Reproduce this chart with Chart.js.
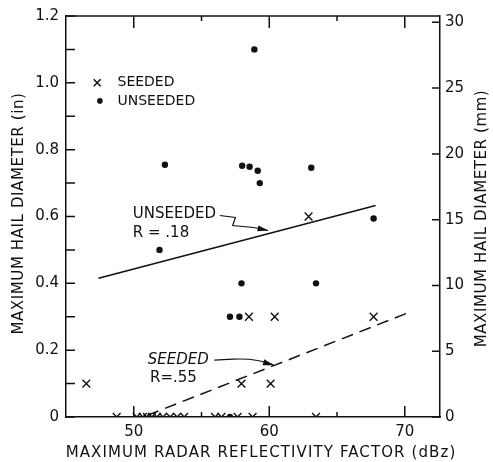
<!DOCTYPE html>
<html>
<head>
<meta charset="utf-8">
<script src="https://cdn.jsdelivr.net/npm/chart.js@4.4.0/dist/chart.umd.min.js"></script>
<style>
  html, body { margin: 0; padding: 0; background: #fff; }
  #wrap { width: 493px; height: 462px; }
</style>
</head>
<body>
<div id="wrap"><canvas id="hailChart"></canvas></div>
<script>
// seeded storms (x marks)
const seededDbz  = [46.5, 58.5, 60.4, 67.7, 57.95, 60.1, 62.9,
                    48.74, 50.22, 50.67, 50.97, 51.34, 51.71, 52.16, 52.68, 53.2, 53.72,
                    56.0, 56.47, 57.66, 58.77, 63.45];
const seededHail = [0.1, 0.3, 0.3, 0.3, 0.1, 0.1, 0.6,
                    0, 0, 0, 0, 0, 0, 0, 0, 0, 0,
                    0, 0, 0, 0, 0];
// unseeded storms (dots)
const unseededDbz  = [58.9, 52.3, 58.0, 58.55, 59.15, 59.3, 63.1, 51.9, 67.7, 57.95, 63.45, 57.1, 57.8, 57.1];
const unseededHail = [1.1, 0.755, 0.752, 0.749, 0.737, 0.70, 0.746, 0.50, 0.594, 0.4, 0.4, 0.3, 0.3, 0];

// regression lines
const unseededFitX = [47.4, 67.85];
const unseededFitY = [0.415, 0.633];
const seededFitX = [51.0, 70.5];
const seededFitY = [0.005, 0.316];

// axes
const xTicks = [50, 55, 60, 65, 70];
const xLabels = [50, 60, 70];
const yTicks = [0, 0.1, 0.2, 0.3, 0.4, 0.5, 0.6, 0.7, 0.8, 0.9, 1.0, 1.1, 1.2];
const yLabelValues = [0, 0.2, 0.4, 0.6, 0.8, 1.0, 1.2];
const yLabelText = ["0", "0.2", "0.4", "0.6", "0.8", "1.0", "1.2"];
const mmTicks = [0, 5, 10, 15, 20, 25, 30];

const xTitle = "MAXIMUM RADAR REFLECTIVITY FACTOR (dBz)";
const yTitle = "MAXIMUM HAIL DIAMETER (in)";
const y2Title = "MAXIMUM HAIL DIAMETER (mm)";

const INK = "#111";
const FONT = "'DejaVu Sans', sans-serif";

function pts(xs, ys) {
    return xs.map((x, i) => ({ x: x, y: ys[i] }));
}

// inward tick marks, top frame line, titles, legend and annotations
const paperPlugin = {
    id: "paper",
    afterDatasetsDraw(chart) {
        const ctx = chart.ctx;
        const a = chart.chartArea;
        const xs = chart.scales.x, ys = chart.scales.y, ys2 = chart.scales.y2;
        const px = v => xs.getPixelForValue(v);
        const py = v => ys.getPixelForValue(v);

        ctx.save();
        ctx.strokeStyle = INK;
        ctx.fillStyle = INK;
        ctx.lineWidth = 1.5;

        // top border
        ctx.beginPath();
        ctx.moveTo(a.left, a.top);
        ctx.lineTo(a.right, a.top);
        ctx.stroke();

        ctx.beginPath();
        yTicks.forEach(v => {
            const y = py(v);
            ctx.moveTo(a.left, y);
            ctx.lineTo(a.left + 9, y);
        });
        mmTicks.forEach(v => {
            const y = ys2.getPixelForValue(v);
            ctx.moveTo(a.right, y);
            ctx.lineTo(a.right - 8, y);
        });
        xTicks.forEach(v => {
            const x = px(v);
            const major = xLabels.includes(v);
            ctx.moveTo(x, a.bottom);
            ctx.lineTo(x, a.bottom - (major ? 11 : 5));
            ctx.moveTo(x, a.top);
            ctx.lineTo(x, a.top + (major ? 12 : 5));
        });
        ctx.stroke();

        // axis titles
        ctx.font = "15px " + FONT;
        ctx.textAlign = "center";
        ctx.textBaseline = "middle";
        ctx.letterSpacing = "1.1px";
        ctx.fillText(xTitle, (a.left + a.right) / 2 + 8, 453);
        ctx.letterSpacing = "0.6px";
        ctx.save();
        ctx.translate(19, (a.top + a.bottom) / 2 - 3);
        ctx.rotate(-Math.PI / 2);
        ctx.fillText(yTitle, 0, 0);
        ctx.restore();
        ctx.save();
        ctx.translate(482, (a.top + a.bottom) / 2 + 2);
        ctx.rotate(-Math.PI / 2);
        ctx.fillText(y2Title, 0, 0);
        ctx.restore();
        ctx.letterSpacing = "0px";

        // legend
        ctx.font = "14px " + FONT;
        ctx.textAlign = "left";
        const lx = px(47.3), ly1 = py(1.0), ly2 = py(0.946);
        ctx.beginPath();
        ctx.moveTo(lx - 3.5, ly1 - 3.5); ctx.lineTo(lx + 3.5, ly1 + 3.5);
        ctx.moveTo(lx + 3.5, ly1 - 3.5); ctx.lineTo(lx - 3.5, ly1 + 3.5);
        ctx.stroke();
        ctx.beginPath();
        ctx.arc(px(47.5), ly2, 2.8, 0, Math.PI * 2);
        ctx.fill();
        ctx.fillText("SEEDED", px(48.8), ly1);
        ctx.fillText("UNSEEDED", px(48.8), ly2);

        // unseeded annotation
        ctx.font = "15px " + FONT;
        ctx.fillText("UNSEEDED", px(49.93), py(0.606));
        ctx.fillText("R = .18", px(49.93), py(0.549));
        ctx.lineWidth = 1.2;
        ctx.beginPath();
        ctx.moveTo(px(56.35), py(0.603));
        ctx.lineTo(px(57.5), py(0.597));
        ctx.lineTo(px(57.3), py(0.573));
        ctx.lineTo(px(58.85), py(0.567));
        ctx.lineTo(px(59.9), py(0.558));
        ctx.stroke();
        arrowHead(ctx, px(58.85), py(0.567), px(59.95), py(0.558));

        // seeded annotation
        ctx.font = "italic 15px " + FONT;
        ctx.fillText("SEEDED", px(51.04), py(0.17));
        ctx.font = "15px " + FONT;
        ctx.fillText("R=.55", px(51.2), py(0.116));
        ctx.beginPath();
        ctx.moveTo(px(55.95), py(0.17));
        ctx.lineTo(px(57.3), py(0.173));
        ctx.quadraticCurveTo(px(59.0), py(0.177), px(60.3), py(0.156));
        ctx.stroke();
        arrowHead(ctx, px(59.2), py(0.168), px(60.35), py(0.155));

        ctx.restore();
    }
};

function arrowHead(ctx, x0, y0, x1, y1) {
    const ang = Math.atan2(y1 - y0, x1 - x0);
    const len = 11, half = 3;
    ctx.beginPath();
    ctx.moveTo(x1, y1);
    ctx.lineTo(x1 - len * Math.cos(ang) + half * Math.sin(ang), y1 - len * Math.sin(ang) - half * Math.cos(ang));
    ctx.lineTo(x1 - len * Math.cos(ang) - half * Math.sin(ang), y1 - len * Math.sin(ang) + half * Math.cos(ang));
    ctx.closePath();
    ctx.fill();
}

const canvas = document.getElementById("hailChart");
new Chart(canvas.getContext("2d"), {
    type: "scatter",
    data: {
        datasets: [
            {
                label: "Seeded",
                data: pts(seededDbz, seededHail),
                pointStyle: "crossRot",
                pointRadius: 5.5,
                borderColor: INK,
                borderWidth: 1.4
            },
            {
                label: "Unseeded",
                data: pts(unseededDbz, unseededHail),
                pointStyle: "circle",
                pointRadius: 3.2,
                backgroundColor: INK,
                borderColor: INK,
                borderWidth: 0
            },
            {
                label: "Unseeded fit",
                data: pts(unseededFitX, unseededFitY),
                showLine: true,
                pointRadius: 0,
                borderColor: INK,
                borderWidth: 1.5
            },
            {
                label: "Seeded fit",
                data: pts(seededFitX, seededFitY),
                showLine: true,
                pointRadius: 0,
                borderColor: INK,
                borderWidth: 1.5,
                borderDash: [12, 7]
            }
        ]
    },
    options: {
        responsive: true,
        maintainAspectRatio: false,
        animation: false,
        devicePixelRatio: 1,
        layout: { padding: { top: 15, left: 0, right: 0, bottom: 0 } },
        plugins: {
            legend: { display: false },
            tooltip: { enabled: false }
        },
        scales: {
            x: {
                type: "linear",
                position: "bottom",
                min: 45,
                max: 72.6,
                afterBuildTicks: s => { s.ticks = xTicks.map(v => ({ value: v })); },
                afterFit: s => { s.height = 45; },
                ticks: {
                    callback: v => xLabels.includes(v) ? String(v) : "",
                    color: INK,
                    font: { family: FONT, size: 15 },
                    padding: 6,
                    maxRotation: 0,
                    autoSkip: false
                },
                grid: { display: false, drawTicks: false },
                border: { color: INK, width: 1.5 }
            },
            y: {
                position: "left",
                min: 0,
                max: 1.2,
                afterBuildTicks: s => { s.ticks = yTicks.map(v => ({ value: v })); },
                afterFit: s => { s.width = 66; },
                ticks: {
                    callback: v => {
                        const i = yLabelValues.findIndex(t => Math.abs(t - v) < 1e-6);
                        return i >= 0 ? yLabelText[i] : "";
                    },
                    color: INK,
                    font: { family: FONT, size: 15 },
                    padding: 7,
                    autoSkip: false
                },
                grid: { display: false, drawTicks: false },
                border: { color: INK, width: 1.5 }
            },
            y2: {
                position: "right",
                min: 0,
                max: 1.2 * 25.4,
                afterBuildTicks: s => { s.ticks = mmTicks.map(v => ({ value: v })); },
                afterFit: s => { s.width = 53; },
                ticks: {
                    color: INK,
                    font: { family: FONT, size: 15 },
                    padding: 5,
                    autoSkip: false
                },
                grid: { display: false, drawTicks: false },
                border: { color: INK, width: 1.5 }
            }
        }
    },
    plugins: [paperPlugin]
});
</script>
</body>
</html>
